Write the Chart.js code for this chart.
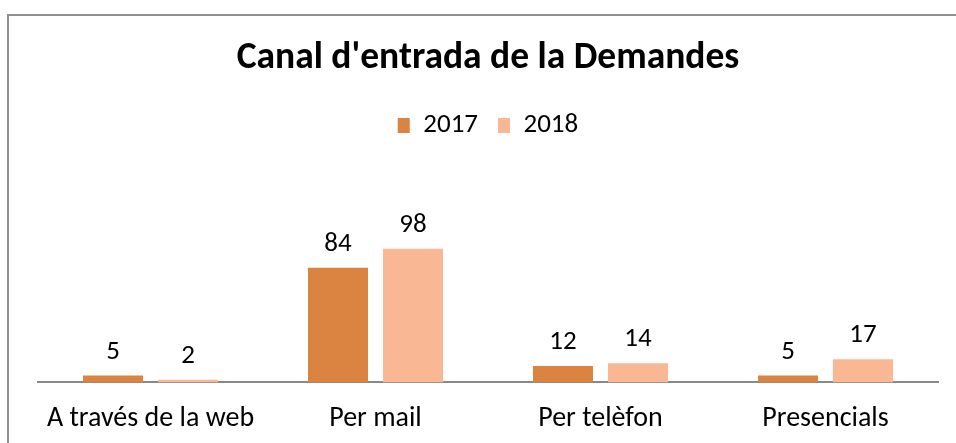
<!DOCTYPE html>
<html>
<head>
<meta charset="utf-8">
<script src="https://cdn.jsdelivr.net/npm/chart.js@4.4.1/dist/chart.umd.min.js"></script>
<style>
  html, body { margin: 0; padding: 0; background: #fff; overflow: hidden; }
  #wrap { position: relative; width: 956px; height: 443px; }
  #frame { position: absolute; left: 7px; top: 14px; width: 1000px; height: 500px; border: 2px solid #8e8e8e; box-sizing: border-box; pointer-events: none; }
  canvas { position: absolute; left: 0; top: 0; }
</style>
</head>
<body>
<div id="wrap">
  <canvas id="c" width="956" height="443"></canvas>
  <div id="frame"></div>
</div>
<script>
const categories = ["A través de la web", "Per mail", "Per telèfon", "Presencials"];
const seriesNames = ["2017", "2018"];
const values2017 = [5, 84, 12, 5];
const values2018 = [2, 98, 14, 17];
const chartTitle = "Canal d'entrada de la Demandes";

const FONT = "Carlito, Lato, 'Liberation Sans', sans-serif";

const dataLabels = {
  id: 'dataLabels',
  afterDatasetsDraw(chart) {
    const ctx = chart.ctx;
    ctx.save();
    ctx.font = "27px " + FONT;
    ctx.fillStyle = "#000";
    ctx.textAlign = "center";
    ctx.textBaseline = "alphabetic";
    chart.data.datasets.forEach((ds, i) => {
      const meta = chart.getDatasetMeta(i);
      meta.data.forEach((bar, j) => {
        ctx.fillText(String(ds.data[j]), bar.x, bar.y - 17);
      });
    });
    ctx.restore();
  }
};

new Chart(document.getElementById('c'), {
  type: 'bar',
  data: {
    labels: categories,
    datasets: [
      { label: seriesNames[0], data: values2017, backgroundColor: '#DB8441' },
      { label: seriesNames[1], data: values2018, backgroundColor: '#F9B793' }
    ]
  },
  options: {
    responsive: false,
    animation: false,
    devicePixelRatio: 1,
    layout: { padding: { left: 38, right: 18, top: 36, bottom: -5 } },
    datasets: { bar: { categoryPercentage: 0.6667, barPercentage: 0.8 } },
    plugins: {
      title: {
        display: true,
        text: chartTitle,
        color: '#000',
        font: { family: FONT, size: 37.5, weight: 'bold' },
        padding: { top: 0, bottom: 11 }
      },
      legend: {
        display: true,
        labels: {
          color: '#000',
          font: { family: FONT, size: 27 },
          boxWidth: 12,
          boxHeight: 15,
          padding: 20
        }
      },
      tooltip: { enabled: false }
    },
    scales: {
      x: {
        grid: { display: false },
        border: { display: true, color: '#898989', width: 2 },
        ticks: { color: '#000', font: { family: FONT, size: 28 }, padding: 12, maxRotation: 0 }
      },
      y: {
        display: false,
        min: 0,
        max: 171
      }
    }
  },
  plugins: [dataLabels]
});
</script>
</body>
</html>
